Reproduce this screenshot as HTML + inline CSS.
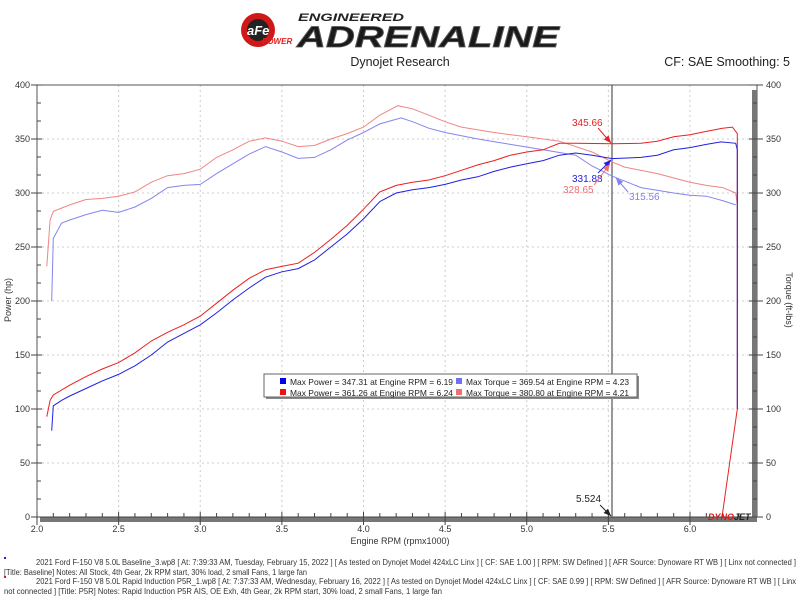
<!DOCTYPE html>
<html><head><meta charset="utf-8"><style>
body{margin:0;background:#fff;width:800px;height:600px;overflow:hidden}
svg{display:block}
text{font-family:"Liberation Sans",sans-serif}
</style></head><body>
<svg id="s" width="800" height="600" xmlns="http://www.w3.org/2000/svg">
<circle cx="258" cy="30" r="17" fill="#d01818"/>
<circle cx="258" cy="30" r="11" fill="#222"/>
<text x="247" y="35" font-size="13" font-weight="bold" fill="#fff" font-style="italic">aFe</text>
<text x="262" y="44" font-size="8" font-weight="bold" fill="#e02020" font-style="italic">POWER</text>
<text x="298" y="21" font-size="11" font-weight="bold" font-style="italic" fill="#222" textLength="106" lengthAdjust="spacingAndGlyphs">ENGINEERED</text>
<text x="297" y="47" font-size="30" font-weight="bold" font-style="italic" fill="#1a1a1a" stroke="#555" stroke-width="0.8" textLength="262" lengthAdjust="spacingAndGlyphs">ADRENALINE</text>
<text x="400" y="66" font-size="12.5" text-anchor="middle" fill="#222">Dynojet Research</text>
<text x="790" y="66" font-size="12.5" text-anchor="end" fill="#222">CF: SAE Smoothing: 5</text>
<g id="grid"></g>
<g id="curves" fill="none"></g>
<g id="ann"></g>
</svg>
<script>
const s=document.getElementById('s'),NS='http://www.w3.org/2000/svg';
const X=r=>37+(r-2)*163.25, Y=v=>517-v*1.08;
function el(t,a,p,txt){const e=document.createElementNS(NS,t);for(const k in a)e.setAttribute(k,a[k]);if(txt!==undefined)e.textContent=txt;(p||s).appendChild(e);return e;}
const g=document.getElementById('grid');
for(let r=2.5;r<6.3;r+=0.5)el('line',{x1:X(r),x2:X(r),y1:85,y2:517,stroke:'#ccc','stroke-dasharray':'2,3'},g);
for(let v=50;v<=350;v+=50)el('line',{x1:37,x2:757,y1:Y(v),y2:Y(v),stroke:'#ccc','stroke-dasharray':'2,3'},g);
el('line',{x1:37,x2:757,y1:85,y2:85,stroke:'#555'},g);
el('line',{x1:37,x2:37,y1:85,y2:517,stroke:'#555'},g);
el('line',{x1:757,x2:757,y1:85,y2:517,stroke:'#555'},g);
el('rect',{x:752,y:90,width:5,height:432,fill:'#777'},g);
el('rect',{x:40,y:517,width:717,height:5,fill:'#777'},g);
el('line',{x1:37,x2:757,y1:517,y2:517,stroke:'#444'},g);
for(let i=0;i<=24;i++){const v=i*50/3;const y=Y(v);const maj=i%3===0;
 el('line',{x1:maj?31:37,x2:maj?42:41,y1:y,y2:y,stroke:'#444'},g);
 el('line',{x1:maj?749:753,x2:maj?763:757,y1:y,y2:y,stroke:'#444'},g);
 if(maj){el('text',{x:30,y:y+3,'font-size':9,'text-anchor':'end',fill:'#333'},g,Math.round(v));
  el('text',{x:766,y:y+3,'font-size':9,fill:'#333'},g,Math.round(v));}}
for(let i=0;i<=43;i++){const r=2+i/10;const x=X(r);const maj=i%5===0;
 el('line',{x1:x,x2:x,y1:maj?512:513,y2:maj?525:517,stroke:'#444'},g);
 if(maj)el('text',{x:x,y:532,'font-size':9,'text-anchor':'middle',fill:'#333'},g,r.toFixed(1));}
el('text',{x:400,y:544,'font-size':9,'text-anchor':'middle',fill:'#333'},g,'Engine RPM (rpmx1000)');
el('text',{x:0,y:0,'font-size':9,'text-anchor':'middle',fill:'#333',transform:'translate(11,300) rotate(-90)'},g,'Power (hp)');
el('text',{x:0,y:0,'font-size':9,'text-anchor':'middle',fill:'#333',transform:'translate(786,300) rotate(90)'},g,'Torque (ft-lbs)');
el('line',{x1:612,x2:612,y1:85,y2:517,stroke:'#555','stroke-width':1.2},g);
const c=document.getElementById('curves');
function line(d,col,w){el('polyline',{points:d.map(p=>X(p[0]).toFixed(1)+','+Y(p[1]).toFixed(1)).join(' '),stroke:col,'stroke-width':w||1},c);}
line([[2.06,232],[2.08,275],[2.1,283],[2.2,289],[2.3,294],[2.4,295],[2.5,297],[2.6,301],[2.7,310],[2.8,316],[2.9,318],[3.0,322],[3.1,333],[3.2,340],[3.3,348],[3.4,351],[3.5,348],[3.6,343],[3.7,344],[3.8,350],[3.9,355],[4.0,361],[4.1,372],[4.21,380.8],[4.3,378],[4.4,372],[4.5,366],[4.6,361],[4.8,356],[5.0,352],[5.2,348],[5.4,338],[5.524,328.65],[5.6,324],[5.8,318],[6.0,310],[6.1,307],[6.2,305],[6.28,300],[6.29,290]],'#f08585');
line([[2.09,200],[2.1,258],[2.15,272],[2.2,275],[2.3,280],[2.4,284],[2.5,282],[2.6,287],[2.7,295],[2.8,305],[2.9,307],[3.0,308],[3.1,318],[3.2,327],[3.3,336],[3.4,343],[3.5,338],[3.6,332],[3.7,333],[3.8,340],[3.9,349],[4.0,356],[4.1,364],[4.23,369.5],[4.3,366],[4.4,360],[4.5,356],[4.7,350],[4.9,345],[5.1,340],[5.3,335],[5.4,325],[5.524,315.56],[5.7,305],[5.9,300],[6.0,298],[6.1,297],[6.2,293],[6.28,289]],'#8585f0');
line([[2.06,93],[2.08,108],[2.1,113],[2.2,122],[2.3,130],[2.4,137],[2.5,143],[2.6,152],[2.7,163],[2.8,171],[2.9,178],[3.0,186],[3.1,198],[3.2,210],[3.3,221],[3.4,229],[3.5,232],[3.6,235],[3.7,245],[3.8,257],[3.9,270],[4.0,285],[4.1,301],[4.2,307],[4.3,310],[4.4,312],[4.5,316],[4.6,321],[4.7,326],[4.8,330],[4.9,335],[5.0,338],[5.1,340],[5.2,346],[5.3,346],[5.524,345.66],[5.7,346],[5.8,348],[5.9,352],[6.0,354],[6.1,357],[6.2,360],[6.26,361],[6.29,355],[6.29,100],[6.196,0]],'#e82020');
line([[2.09,80],[2.1,103],[2.15,108],[2.2,112],[2.3,119],[2.4,126],[2.5,132],[2.6,140],[2.7,150],[2.8,162],[2.9,170],[3.0,178],[3.1,189],[3.2,201],[3.3,212],[3.4,222],[3.5,227],[3.6,230],[3.7,238],[3.8,250],[3.9,262],[4.0,276],[4.1,292],[4.2,300],[4.3,303],[4.4,305],[4.5,308],[4.6,312],[4.7,315],[4.8,320],[4.9,324],[5.0,327],[5.1,330],[5.2,335],[5.3,337],[5.4,335],[5.524,331.88],[5.7,333],[5.8,335],[5.9,340],[6.0,342],[6.1,345],[6.19,347.3],[6.28,346],[6.29,340],[6.29,100]],'#2020e0');
const a=document.getElementById('ann');
function arr(x1,y1,x2,y2,col,lab,lx,ly){el('line',{x1,y1,x2,y2,stroke:col},a);
 const ang=Math.atan2(y2-y1,x2-x1),L=8;
 el('polygon',{points:`${x2},${y2} ${x2-L*Math.cos(ang-0.4)},${y2-L*Math.sin(ang-0.4)} ${x2-L*Math.cos(ang+0.4)},${y2-L*Math.sin(ang+0.4)}`,fill:col},a);
 el('text',{x:lx,y:ly,'font-size':10,fill:col},a,lab);}
arr(598,128,611,143,'#e82020','345.66',572,126);
arr(598,173,611,160,'#2020e0','331.88',572,182);
arr(594,185,610,164,'#f07070','328.65',563,193);
arr(628,192,616,178,'#8080f0','315.56',629,200);
arr(600,505,611,516,'#222','5.524',576,502);
el('rect',{x:266,y:376,width:373,height:23,fill:'#888'},a);
el('rect',{x:264,y:374,width:373,height:23,fill:'#fff',stroke:'#666'},a);
[['#0000ee','Max Power = 347.31 at Engine RPM = 6.19',280,385],['#ee1111','Max Power = 361.26 at Engine RPM = 6.24',280,396],['#7070f0','Max Torque = 369.54 at Engine RPM = 4.23',456,385],['#f07070','Max Torque = 380.80 at Engine RPM = 4.21',456,396]].forEach(q=>{
 el('rect',{x:q[2],y:q[3]-7,width:6,height:6,fill:q[0]},a);
 el('text',{x:q[2]+10,y:q[3],'font-size':8.5,fill:'#222',textLength:163,lengthAdjust:'spacingAndGlyphs'},a,q[1]);});
el('text',{x:708,y:520,'font-size':9,'font-weight':'bold','font-style':'italic',fill:'#e01818'},a,'DYNO');
el('text',{x:734,y:520,'font-size':9,'font-weight':'bold','font-style':'italic',fill:'#222'},a,'JET');
el('rect',{x:4,y:557,width:2,height:2,fill:'#2020e0'},a);
el('rect',{x:4,y:576,width:2,height:2,fill:'#e02020'},a);
const ft=[[36,565,760,'2021 Ford F-150 V8 5.0L Baseline_3.wp8 [ At: 7:39:33 AM, Tuesday, February 15, 2022 ] [ As tested on Dynojet Model 424xLC Linx ] [ CF: SAE 1.00 ] [ RPM: SW Defined ] [ AFR Source: Dynoware RT WB ] [ Linx not connected ]'],
[4,575,303,'[Title: Baseline]  Notes: All Stock, 4th Gear, 2k RPM start, 30% load, 2 small Fans, 1 large fan'],
[36,584,760,'2021 Ford F-150 V8 5.0L Rapid Induction P5R_1.wp8 [ At: 7:37:33 AM, Wednesday, February 16, 2022 ] [ As tested on Dynojet Model 424xLC Linx ] [ CF: SAE 0.99 ] [ RPM: SW Defined ] [ AFR Source: Dynoware RT WB ] [ Linx'],
[4,594,438,'not connected ] [Title: P5R]  Notes: Rapid Induction P5R AIS, OE Exh, 4th Gear, 2k RPM start, 30% load, 2 small Fans, 1 large fan']];
ft.forEach(f=>el('text',{x:f[0],y:f[1],'font-size':8.5,fill:'#333',textLength:f[2],lengthAdjust:'spacingAndGlyphs'},a,f[3]));
</script>
</body></html>
